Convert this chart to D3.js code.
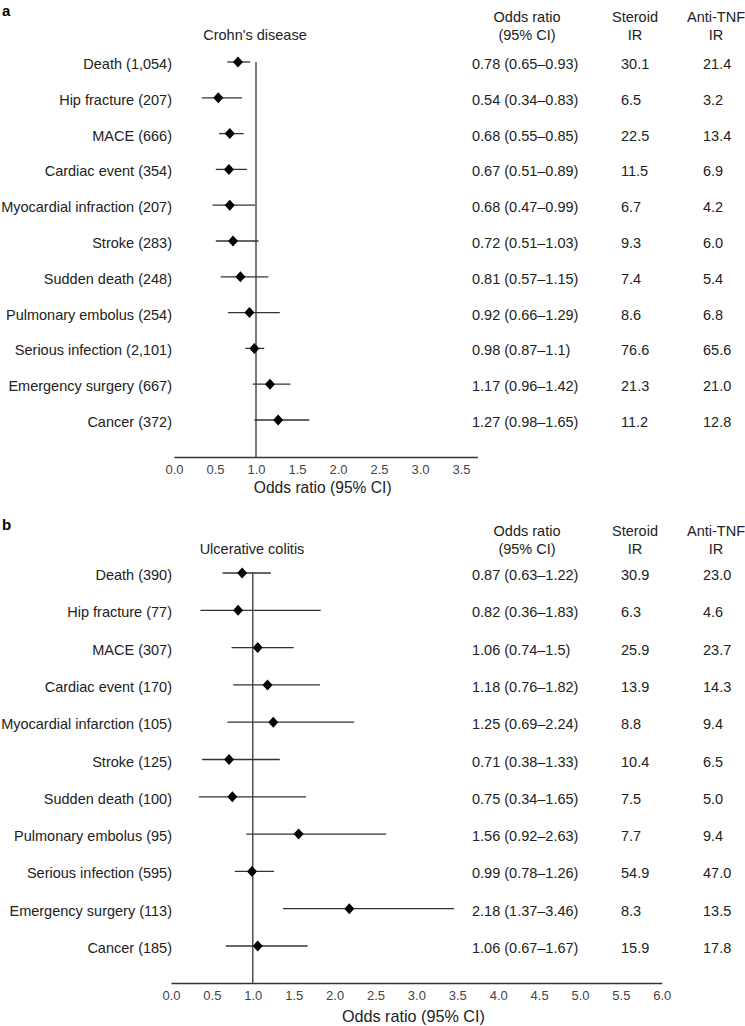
<!DOCTYPE html>
<html>
<head>
<meta charset="utf-8">
<script src="https://cdn.jsdelivr.net/npm/d3@7"></script>
<style>
  html, body { margin: 0; padding: 0; background: #fff; }
  svg { display: block; font-family: "Liberation Sans", Arial, Helvetica, sans-serif; }
</style>
</head>
<body>
<svg id="chart" width="745" height="1026"></svg>
<script>
// ---------- Panel a: Crohn's disease ----------
const cdOutcomes = ["Death (1,054)", "Hip fracture (207)", "MACE (666)", "Cardiac event (354)",
  "Myocardial infraction (207)", "Stroke (283)", "Sudden death (248)", "Pulmonary embolus (254)",
  "Serious infection (2,101)", "Emergency surgery (667)", "Cancer (372)"];
const cdOR    = [0.78, 0.54, 0.68, 0.67, 0.68, 0.72, 0.81, 0.92, 0.98, 1.17, 1.27];
const cdLow   = [0.65, 0.34, 0.55, 0.51, 0.47, 0.51, 0.57, 0.66, 0.87, 0.96, 0.98];
const cdHigh  = [0.93, 0.83, 0.85, 0.89, 0.99, 1.03, 1.15, 1.29, 1.1, 1.42, 1.65];
const cdSteroidIR = [30.1, 6.5, 22.5, 11.5, 6.7, 9.3, 7.4, 8.6, 76.6, 21.3, 11.2];
const cdAntiTNFIR = [21.4, 3.2, 13.4, 6.9, 4.2, 6.0, 5.4, 6.8, 65.6, 21.0, 12.8];
const cdTicks = [0.0, 0.5, 1.0, 1.5, 2.0, 2.5, 3.0, 3.5];

// ---------- Panel b: Ulcerative colitis ----------
const ucOutcomes = ["Death (390)", "Hip fracture (77)", "MACE (307)", "Cardiac event (170)",
  "Myocardial infarction (105)", "Stroke (125)", "Sudden death (100)", "Pulmonary embolus (95)",
  "Serious infection (595)", "Emergency surgery (113)", "Cancer (185)"];
const ucOR    = [0.87, 0.82, 1.06, 1.18, 1.25, 0.71, 0.75, 1.56, 0.99, 2.18, 1.06];
const ucLow   = [0.63, 0.36, 0.74, 0.76, 0.69, 0.38, 0.34, 0.92, 0.78, 1.37, 0.67];
const ucHigh  = [1.22, 1.83, 1.5, 1.82, 2.24, 1.33, 1.65, 2.63, 1.26, 3.46, 1.67];
const ucSteroidIR = [30.9, 6.3, 25.9, 13.9, 8.8, 10.4, 7.5, 7.7, 54.9, 8.3, 15.9];
const ucAntiTNFIR = [23.0, 4.6, 23.7, 14.3, 9.4, 6.5, 5.0, 9.4, 47.0, 13.5, 17.8];
const ucTicks = [0.0, 0.5, 1.0, 1.5, 2.0, 2.5, 3.0, 3.5, 4.0, 4.5, 5.0, 5.5, 6.0];

const svg = d3.select("#chart");
svg.append("rect").attr("width", 745).attr("height", 1026).attr("fill", "#fff");

const INK = "#222";
const LINE = "#333";

function panel(cfg) {
  const g = svg.append("g");
  const x = d3.scaleLinear().domain(cfg.domain).range(cfg.xRange);
  const y = d3.scalePoint().domain(cfg.outcomes).range(cfg.yRange);

  // panel letter
  g.append("text").attr("x", 2).attr("y", cfg.letterY).attr("dy", "0.35em")
    .attr("font-size", 15).attr("font-weight", "bold").attr("fill", "#000").text(cfg.letter);

  // disease title
  g.append("text").attr("x", cfg.titleX).attr("y", cfg.titleY).attr("dy", "0.35em")
    .attr("text-anchor", "middle").attr("font-size", 14.5).attr("fill", INK).text(cfg.title);

  // column headers
  const hdr = [
    { x: 527, l1: "Odds ratio", l2: "(95% CI)" },
    { x: 635, l1: "Steroid", l2: "IR" },
    { x: 716, l1: "Anti-TNF", l2: "IR" }
  ];
  hdr.forEach(h => {
    g.append("text").attr("x", h.x).attr("y", cfg.hdrY1).attr("dy", "0.35em")
      .attr("text-anchor", "middle").attr("font-size", 14.5).attr("fill", INK).text(h.l1);
    g.append("text").attr("x", h.x).attr("y", cfg.hdrY2).attr("dy", "0.35em")
      .attr("text-anchor", "middle").attr("font-size", 14.5).attr("fill", INK).text(h.l2);
  });

  const rows = cfg.outcomes.map((o, i) => ({
    name: o, or: cfg.or[i], lo: cfg.lo[i], hi: cfg.hi[i], s: cfg.st[i], a: cfg.at[i]
  }));

  // reference line at OR = 1
  g.append("line")
    .attr("x1", x(1)).attr("x2", x(1))
    .attr("y1", y(cfg.outcomes[0])).attr("y2", cfg.axisY)
    .attr("stroke", LINE).attr("stroke-width", 1.3);

  // CI lines
  g.selectAll(".ci").data(rows).join("line").attr("class", "ci")
    .attr("x1", d => x(d.lo)).attr("x2", d => x(d.hi))
    .attr("y1", d => y(d.name)).attr("y2", d => y(d.name))
    .attr("stroke", LINE).attr("stroke-width", 1.3);

  // diamonds
  g.selectAll(".pt").data(rows).join("path").attr("class", "pt")
    .attr("d", d => {
      const cx = x(d.or), cy = y(d.name), w = 5, h = 5.5;
      return `M${cx},${cy - h}L${cx + w},${cy}L${cx},${cy + h}L${cx - w},${cy}Z`;
    })
    .attr("fill", "#000");

  // row labels
  g.selectAll(".lbl").data(rows).join("text").attr("class", "lbl")
    .attr("x", 172).attr("y", d => y(d.name) + 2).attr("dy", "0.35em")
    .attr("text-anchor", "end").attr("font-size", 14.5).attr("fill", INK)
    .text(d => d.name);

  // table columns
  g.selectAll(".orTxt").data(rows).join("text").attr("class", "orTxt")
    .attr("x", 472).attr("y", d => y(d.name) + 2).attr("dy", "0.35em")
    .attr("font-size", 14.5).attr("fill", INK)
    .text(d => `${d.or} (${d.lo}\u2013${d.hi})`);
  g.selectAll(".stTxt").data(rows).join("text").attr("class", "stTxt")
    .attr("x", 621).attr("y", d => y(d.name) + 2).attr("dy", "0.35em")
    .attr("font-size", 14.5).attr("fill", INK)
    .text(d => d.s.toFixed(1));
  g.selectAll(".atTxt").data(rows).join("text").attr("class", "atTxt")
    .attr("x", 703).attr("y", d => y(d.name) + 2).attr("dy", "0.35em")
    .attr("font-size", 14.5).attr("fill", INK)
    .text(d => d.a.toFixed(1));

  // x axis
  const axis = d3.axisBottom(x).tickValues(cfg.ticks).tickFormat(d3.format(".1f"))
    .tickSize(0).tickSizeOuter(0).tickPadding(8);
  const ax = g.append("g").attr("transform", `translate(0,${cfg.axisY})`).call(axis);
  ax.select(".domain").attr("stroke", LINE).attr("stroke-width", 1.3);
  ax.selectAll("text").attr("font-size", 13).attr("fill", "#444")
    .attr("font-family", '"Liberation Sans", Arial, sans-serif');

  // axis title
  g.append("text")
    .attr("x", (cfg.xRange[0] + cfg.xRange[1]) / 2 - 3).attr("y", cfg.axisTitleY).attr("dy", "0.35em")
    .attr("text-anchor", "middle").attr("font-size", cfg.axisTitleSize).attr("fill", INK)
    .text("Odds ratio (95% CI)");
}

panel({
  letter: "a", letterY: 11, title: "Crohn's disease", titleX: 255, titleY: 35,
  hdrY1: 17, hdrY2: 35,
  outcomes: cdOutcomes, or: cdOR, lo: cdLow, hi: cdHigh, st: cdSteroidIR, at: cdAntiTNFIR,
  ticks: cdTicks, domain: [0, 3.7], xRange: [174, 477.4], yRange: [62, 420],
  axisY: 457, axisTitleY: 488, axisTitleSize: 15.6
});

panel({
  letter: "b", letterY: 525, title: "Ulcerative colitis", titleX: 252, titleY: 549,
  hdrY1: 531, hdrY2: 549,
  outcomes: ucOutcomes, or: ucOR, lo: ucLow, hi: ucHigh, st: ucSteroidIR, at: ucAntiTNFIR,
  ticks: ucTicks, domain: [0, 6.0], xRange: [171, 661.8], yRange: [573, 946],
  axisY: 983, axisTitleY: 1016, axisTitleSize: 16.2
});
</script>
</body>
</html>
